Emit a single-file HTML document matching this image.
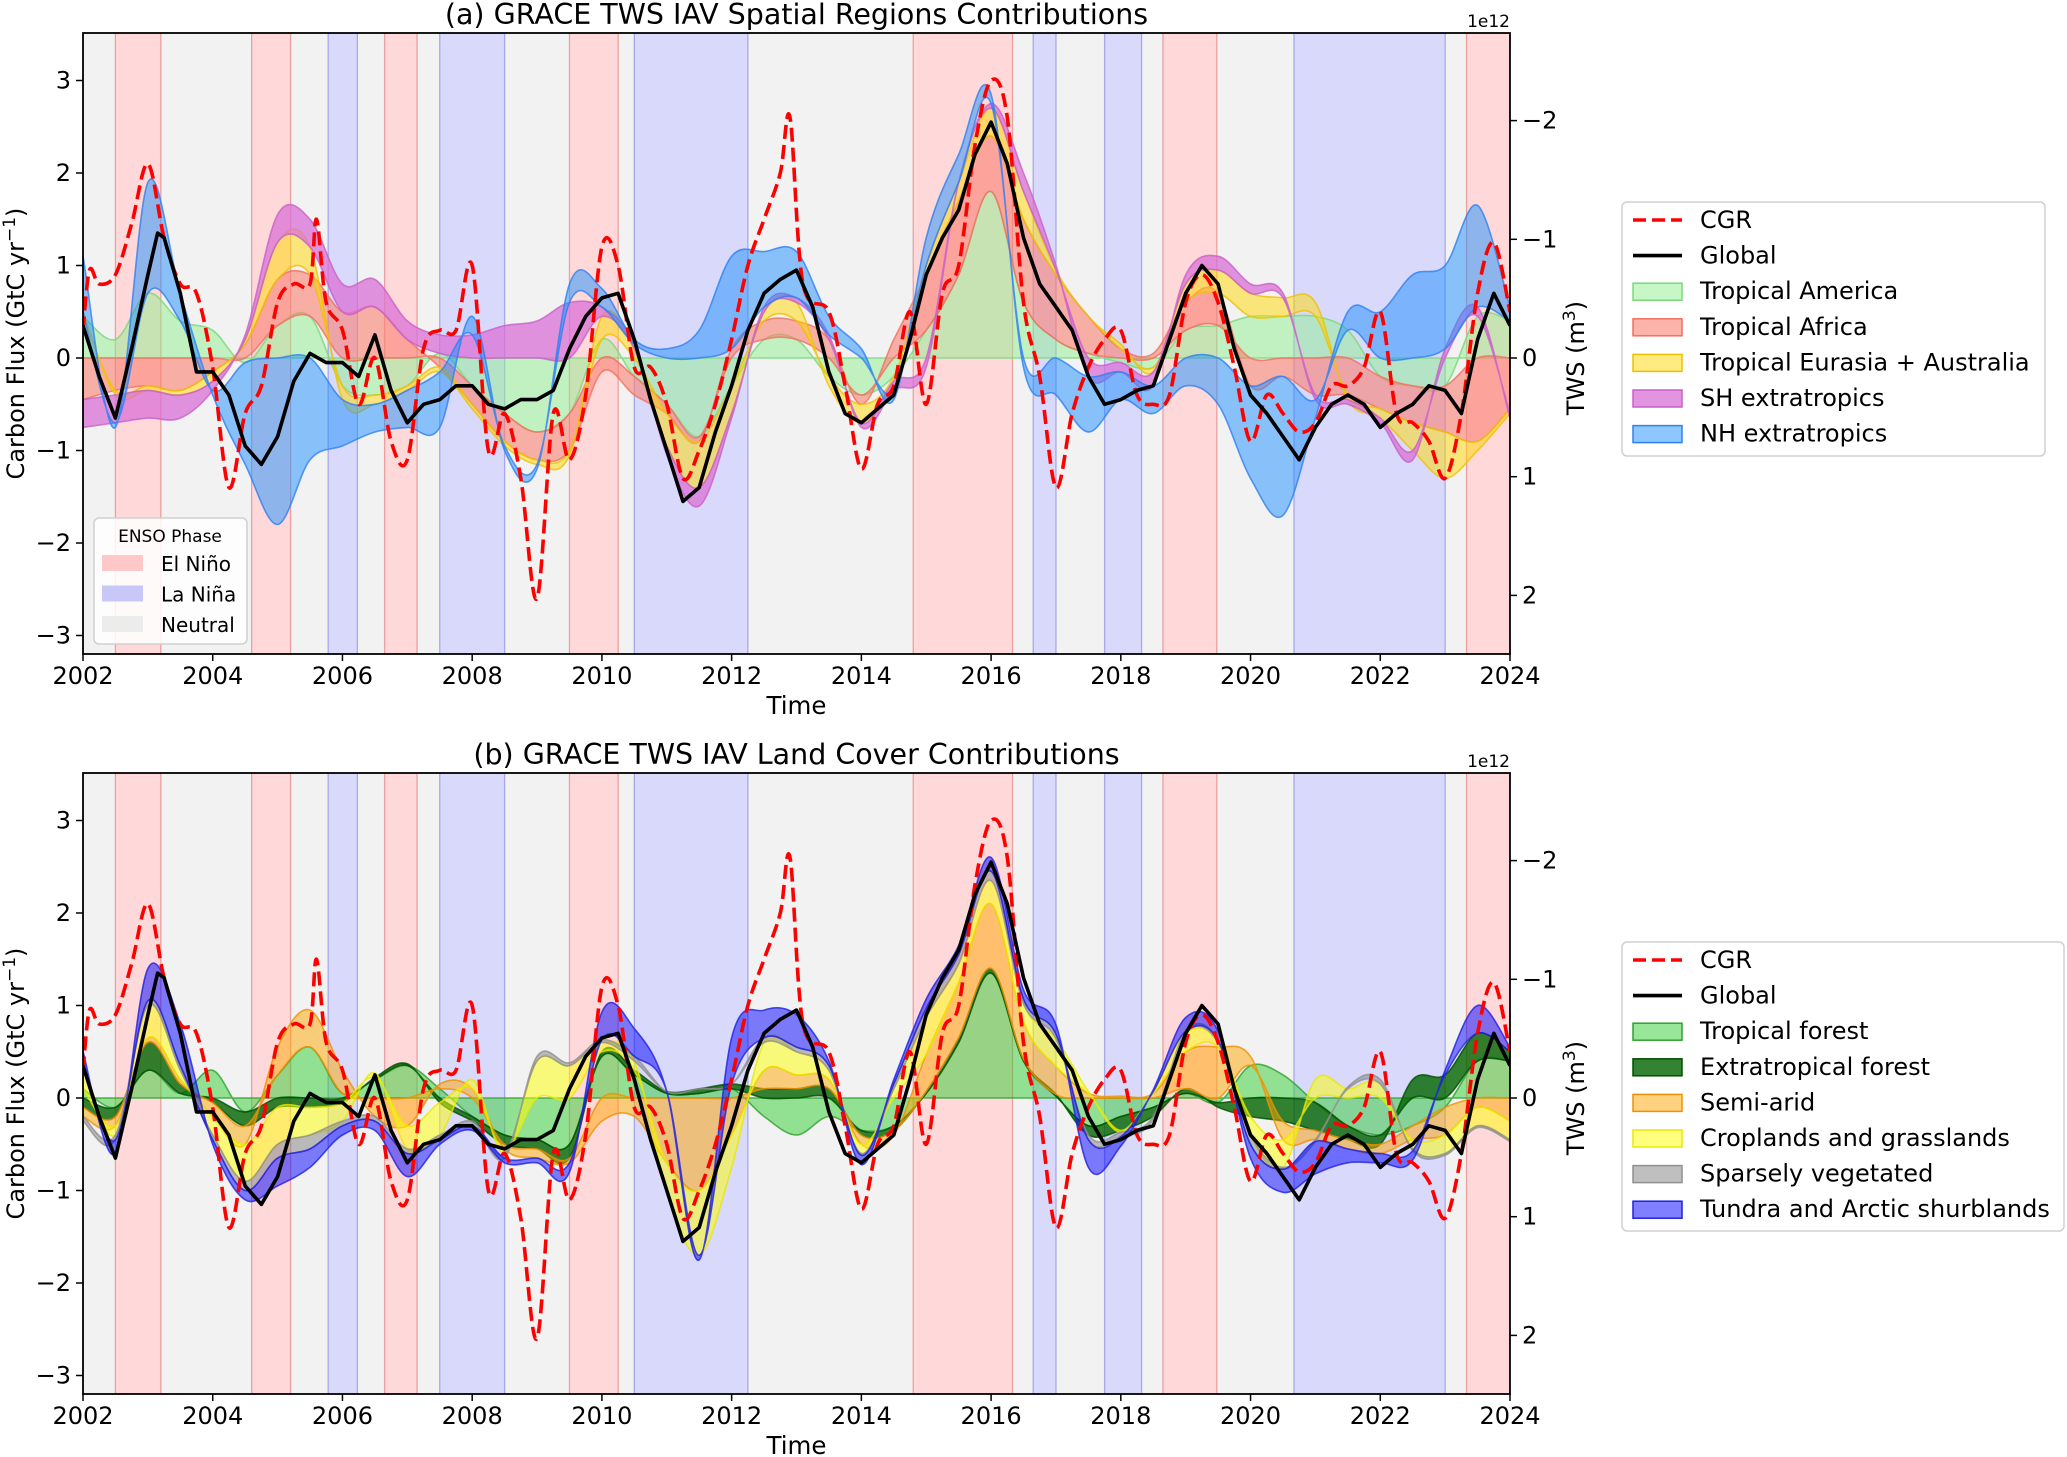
<!DOCTYPE html>
<html><head><meta charset="utf-8">
<style>
body{margin:0;background:#fff;}
svg{display:block;font-family:"DejaVu Sans","Liberation Sans",sans-serif;}
</style></head>
<body>
<svg id="chart" width="2067" height="1457" viewBox="0 0 2067 1457" xmlns="http://www.w3.org/2000/svg"></svg>
<script>
// ---- data ----
const ensoElNino = [[2002.5,2003.2],[2004.6,2005.2],[2006.65,2007.15],[2009.5,2010.25],[2014.8,2016.33],[2018.65,2019.48],[2023.33,2024]];
const ensoLaNina = [[2005.78,2006.23],[2007.5,2008.5],[2010.5,2012.25],[2016.65,2017.0],[2017.75,2018.32],[2020.67,2023.0]];
const globalT = [2002,2002.25,2002.5,2002.75,2003,2003.15,2003.25,2003.5,2003.75,2004,2004.25,2004.5,2004.75,2005,2005.25,2005.5,2005.75,2006,2006.25,2006.5,2006.75,2007,2007.25,2007.5,2007.75,2008,2008.25,2008.5,2008.75,2009,2009.25,2009.5,2009.75,2010,2010.25,2010.5,2010.75,2011,2011.25,2011.5,2011.75,2012,2012.25,2012.5,2012.75,2013,2013.25,2013.5,2013.75,2014,2014.25,2014.5,2014.75,2015,2015.25,2015.5,2015.75,2016,2016.25,2016.5,2016.75,2017,2017.25,2017.5,2017.75,2018,2018.25,2018.5,2018.75,2019,2019.25,2019.5,2019.75,2020,2020.25,2020.5,2020.75,2021,2021.25,2021.5,2021.75,2022,2022.25,2022.5,2022.75,2023,2023.25,2023.5,2023.75,2024];
const globalV = [0.35,-0.2,-0.65,0.1,0.9,1.35,1.3,0.7,-0.15,-0.15,-0.4,-0.95,-1.15,-0.85,-0.25,0.05,-0.05,-0.05,-0.2,0.25,-0.35,-0.7,-0.5,-0.45,-0.3,-0.3,-0.5,-0.55,-0.45,-0.45,-0.35,0.1,0.45,0.65,0.7,0.2,-0.45,-1.0,-1.55,-1.4,-0.8,-0.3,0.3,0.7,0.85,0.95,0.55,-0.15,-0.6,-0.7,-0.55,-0.4,0.2,0.9,1.3,1.6,2.2,2.55,2.1,1.3,0.8,0.55,0.3,-0.2,-0.5,-0.45,-0.35,-0.3,0.2,0.7,1.0,0.8,0.1,-0.4,-0.6,-0.85,-1.1,-0.75,-0.5,-0.4,-0.5,-0.75,-0.6,-0.5,-0.3,-0.35,-0.6,0.2,0.7,0.35];
const cgrT = [2002,2002.1,2002.25,2002.5,2002.75,2003,2003.25,2003.5,2003.75,2004,2004.25,2004.5,2004.75,2005,2005.25,2005.5,2005.6,2005.75,2006,2006.25,2006.5,2006.75,2007,2007.25,2007.5,2007.75,2008,2008.25,2008.5,2008.75,2009,2009.25,2009.5,2009.75,2010,2010.25,2010.5,2010.75,2011,2011.25,2011.5,2011.75,2012,2012.25,2012.5,2012.75,2012.9,2013.1,2013.5,2013.75,2014,2014.25,2014.5,2014.75,2015,2015.25,2015.5,2015.75,2016,2016.25,2016.5,2016.75,2017,2017.25,2017.5,2017.75,2018,2018.25,2018.5,2018.75,2019,2019.25,2019.5,2019.75,2020,2020.25,2020.5,2020.75,2021,2021.25,2021.5,2021.75,2022,2022.25,2022.5,2022.75,2023,2023.25,2023.5,2023.75,2024];
const cgrV = [0.3,0.95,0.8,0.9,1.45,2.1,1.3,0.8,0.7,-0.1,-1.4,-0.6,-0.3,0.6,0.8,0.8,1.5,0.6,0.3,-0.5,0.0,-0.9,-1.1,0.1,0.3,0.3,1.0,-1.0,-0.6,-1.3,-2.6,-0.6,-1.1,-0.4,1.2,1.0,-0.1,-0.1,-0.5,-1.3,-1.0,-0.5,0.2,1.0,1.5,2.0,2.6,0.8,0.5,-0.3,-1.2,-0.5,-0.3,0.5,-0.5,0.7,1.0,2.3,3.0,2.6,0.6,-0.2,-1.4,-0.6,-0.1,0.2,0.3,-0.4,-0.5,-0.4,0.6,0.9,0.6,-0.1,-0.9,-0.4,-0.6,-0.8,-0.7,-0.3,-0.3,-0.1,0.5,-0.6,-0.7,-0.9,-1.3,-0.6,0.7,1.25,0.5];
// component sample times (every half year)
const compT = [2002,2002.5,2003,2003.5,2004,2004.5,2005,2005.5,2006,2006.5,2007,2007.5,2008,2008.5,2009,2009.5,2010,2010.5,2011,2011.5,2012,2012.5,2013,2013.5,2014,2014.5,2015,2015.5,2016,2016.5,2017,2017.5,2018,2018.5,2019,2019.5,2020,2020.5,2021,2021.5,2022,2022.5,2023,2023.5,2024];
// panel (a) regions
const tropAmerica = [0.45,0.2,0.7,0.4,0.3,-0.05,0.35,0.45,-0.3,-0.4,-0.3,0.05,-0.3,-0.6,-0.8,-0.6,0.2,-0.2,-0.5,-0.85,-0.3,0.2,0.2,-0.2,-0.4,-0.2,0.3,0.9,1.8,0.6,0.2,0.05,-0.05,-0.1,0.3,0.35,0.45,0.45,0.45,0.3,-0.2,-0.3,-0.3,0.45,0.4];
const tropAfrica = [-0.45,-0.35,-0.3,-0.35,-0.15,0.15,0.5,0.45,0.5,0.55,0.2,-0.1,-0.2,-0.3,-0.3,-0.4,-0.15,-0.2,-0.1,-0.05,0.1,0.2,0.2,0.2,-0.1,0.2,0.6,0.8,0.6,0.9,0.7,0.4,0.1,0.05,0.3,0.35,-0.3,-0.2,-0.4,-0.4,-0.35,-0.4,-0.5,-0.9,-0.55];
const tropEurasia = [0.05,-0.05,-0.05,-0.05,-0.1,0.05,0.4,0.3,-0.15,-0.1,-0.05,-0.05,-0.05,-0.05,-0.05,-0.05,0.25,0.1,-0.35,-0.5,-0.3,0.1,0.2,-0.1,-0.2,-0.05,0.1,0.2,0.3,0.3,0.05,0.0,0.05,-0.05,0.2,0.25,0.25,0.2,0.15,-0.05,-0.1,-0.3,-0.5,-0.1,-0.05];
const shExtra = [-0.3,-0.3,-0.3,-0.25,-0.1,0.05,0.3,0.3,0.3,0.3,0.2,0.2,0.25,0.35,0.4,0.6,0.1,0.05,-0.1,-0.2,-0.05,0.05,0.05,0.05,-0.05,-0.1,-0.1,0.0,0.05,0.2,0.05,-0.2,-0.1,-0.15,0.1,0.15,0.1,0.05,-0.05,-0.05,-0.05,-0.1,0.1,0.1,-0.05];
const nhExtra = [0.6,-0.05,1.2,0.3,-0.05,-1.1,-1.8,-1.1,-0.5,-0.3,-0.4,-0.6,0.2,-0.05,-0.05,0.2,0.2,0.05,0.1,0.3,1.0,0.6,0.5,0.2,0.1,-0.1,0.3,0.3,0.1,-0.1,-0.4,-0.6,-0.3,-0.3,-0.3,-0.5,-1.0,-1.5,-0.2,0.2,0.5,0.9,0.9,1.1,0.15];
// panel (b) land cover
const tropForest = [0.1,-0.1,0.3,0.05,0.3,-0.15,0.25,0.55,0.05,0.2,0.35,0.1,-0.2,-0.4,-0.45,-0.5,0.45,0.25,0.05,0.05,0.1,-0.2,-0.4,-0.2,-0.35,-0.3,0.05,0.6,1.35,0.4,0.02,-0.3,-0.2,-0.1,0.05,-0.05,0.35,0.25,-0.05,-0.3,-0.4,-0.3,-0.1,0.4,0.4];
const extraForest = [-0.1,-0.1,0.3,0.1,-0.05,-0.15,-0.1,-0.1,-0.05,0.02,0.02,-0.05,-0.05,-0.1,-0.1,-0.15,0.05,0.05,0.02,0.05,0.05,0.1,0.1,0.1,-0.05,-0.05,0.02,0.05,0.05,0.02,0.02,-0.1,-0.15,-0.1,0.05,-0.05,-0.2,-0.25,-0.3,-0.15,-0.1,0.2,0.25,0.3,0.1];
const semiArid = [-0.1,-0.1,0.05,0.05,-0.15,-0.2,0.3,0.4,0.25,-0.2,-0.3,0.05,0.1,-0.05,-0.1,-0.05,-0.25,-0.2,-0.7,-1.0,-0.4,0.2,0.15,0.1,-0.1,-0.05,0.4,0.6,0.7,0.4,0.3,0.05,0.02,0.05,0.4,0.55,0.1,-0.2,-0.1,-0.1,-0.1,-0.15,-0.3,-0.1,-0.25];
const cropGrass = [0.2,-0.1,0.35,0.1,-0.2,-0.4,-0.4,-0.3,-0.2,0.05,-0.25,-0.35,0.1,-0.05,0.4,0.35,0.1,0.1,-0.3,-0.7,-0.35,0.3,0.25,0.1,-0.1,0.1,0.4,0.2,0.25,0.2,0.3,0.02,-0.02,0.02,0.2,0.05,-0.2,-0.3,0.2,0.1,0.15,-0.1,-0.2,-0.2,-0.2];
const sparseVeg = [-0.05,-0.05,0.05,0.05,-0.05,-0.1,-0.15,-0.15,-0.05,-0.05,-0.05,-0.05,-0.05,-0.05,0.05,0.03,0.03,0.05,0,0,0,0.05,0.05,0.05,-0.02,0.05,0.1,0.1,0.1,0.05,0.05,-0.05,-0.05,-0.03,0.02,0.02,-0.1,-0.02,-0.02,0.02,0.05,-0.02,-0.02,-0.02,-0.02];
const tundra = [0.2,-0.15,0.35,0.45,-0.05,-0.1,-0.3,-0.2,-0.1,-0.1,-0.25,-0.05,-0.05,-0.05,-0.05,-0.1,0.3,0.3,0,-0.05,0.5,0.3,0.35,0.05,-0.1,0.05,0.1,0.1,0.15,0.1,0.1,-0.3,-0.1,0.02,0.15,0.1,-0.15,-0.25,-0.35,-0.15,-0.1,-0.1,0.05,0.3,0.05];
const leftTicks = [-3,-2,-1,0,1,2,3];
const rightTicks = [-2,-1,0,1,2];
const xTicks = [2002,2004,2006,2008,2010,2012,2014,2016,2018,2020,2022,2024];

// ---- layout ----
const NS='http://www.w3.org/2000/svg';
const svg=document.getElementById('chart');
const X0=83,X1=1510;
function xs(t){return X0+(t-2002)*(X1-X0)/22;}
function mk(tag,attrs,parent){const e=document.createElementNS(NS,tag);for(const k in attrs)e.setAttribute(k,attrs[k]);(parent||svg).appendChild(e);return e;}
function smooth(pts){ if(pts.length<2)return ''; let d='M'+pts[0][0].toFixed(1)+','+pts[0][1].toFixed(1);
  for(let i=0;i<pts.length-1;i++){const p0=pts[Math.max(0,i-1)],p1=pts[i],p2=pts[i+1],p3=pts[Math.min(pts.length-1,i+2)];
    const c1x=p1[0]+(p2[0]-p0[0])/6,c1y=p1[1]+(p2[1]-p0[1])/6,c2x=p2[0]-(p3[0]-p1[0])/6,c2y=p2[1]-(p3[1]-p1[1])/6;
    d+=' C'+c1x.toFixed(1)+','+c1y.toFixed(1)+' '+c2x.toFixed(1)+','+c2y.toFixed(1)+' '+p2[0].toFixed(1)+','+p2[1].toFixed(1);}
  return d;}
function lin(pts){return 'M'+pts.map(p=>p[0].toFixed(1)+','+p[1].toFixed(1)).join(' L');}

function panel(p){
  const top=p.top,bot=p.top+621; const zero=top+325; const unit=92.5; const tunit=118.7;
  const ys=v=>zero-v*unit; const yr=v=>zero+v*tunit;
  const g=mk('g',{});
  
  
  const clipId='clip'+p.idx;
  const cp=mk('clipPath',{id:clipId},g); mk('rect',{x:X0,y:top,width:X1-X0,height:bot-top},cp);
  const pg=mk('g',{'clip-path':'url(#'+clipId+')'},g);
  const bg=mk('rect',{x:X0,y:top,width:X1-X0,height:bot-top,fill:'#f2f2f2'},pg);
  
  
  ensoElNino.forEach(r=>{const e=mk('rect',{x:xs(r[0]),y:top,width:xs(r[1])-xs(r[0]),height:bot-top,fill:'#ffd9d9',stroke:'#eaa0a0','stroke-width':1.3},pg);
    
    });
  ensoLaNina.forEach(r=>{const e=mk('rect',{x:xs(r[0]),y:top,width:xs(r[1])-xs(r[0]),height:bot-top,fill:'#d9d9fb',stroke:'#a8a8e8','stroke-width':1.3},pg);
    
    });
  const n=compT.length; const pos=new Array(n).fill(0), neg=new Array(n).fill(0);
  p.series.forEach(s=>{
    const lo=[],hi=[];
    for(let i=0;i<n;i++){const v=s.data[i]; if(v>=0){lo.push(pos[i]);hi.push(pos[i]+v);pos[i]+=v;}else{lo.push(neg[i]);hi.push(neg[i]+v);neg[i]+=v;}}
    const up=compT.map((t,i)=>[xs(t),ys(hi[i])]); const dn=compT.map((t,i)=>[xs(t),ys(lo[i])]).reverse();
    const d=smooth(up)+' L'+smooth(dn).slice(1)+' Z';
    const e=mk('path',{d:d,fill:s.fill,'fill-opacity':s.op,stroke:s.edge,'stroke-width':1.6,'stroke-opacity':0.8},pg);
    
    
  });
  const cg=mk('path',{d:smooth(cgrT.map((t,i)=>[xs(t),ys(cgrV[i])])),fill:'none',stroke:'#ff0000','stroke-width':3.6,'stroke-dasharray':'14,6'},pg);
  
  
  const gl=mk('path',{d:lin(globalT.map((t,i)=>[xs(t),ys(globalV[i])])),fill:'none',stroke:'#000','stroke-width':3.6,'stroke-linejoin':'round'},pg);
  
  
  const fr=mk('rect',{x:X0,y:top,width:X1-X0,height:bot-top,fill:'none',stroke:'#000','stroke-width':1.8},g);
  
  
  leftTicks.forEach(v=>{const y=ys(v); mk('line',{x1:X0-7,x2:X0,y1:y,y2:y,stroke:'#000','stroke-width':1.5},g);
    const t=mk('text',{x:X0-12,y:y+8,'text-anchor':'end','font-size':24},g); t.textContent=(v<0?'\u2212'+(-v):v);
    
    });
  rightTicks.forEach(v=>{const y=yr(v); mk('line',{x1:X1,x2:X1+7,y1:y,y2:y,stroke:'#000','stroke-width':1.5},g);
    const t=mk('text',{x:X1+12,y:y+8,'text-anchor':'start','font-size':24},g); t.textContent=(v<0?'\u2212'+(-v):v);
    
    });
  xTicks.forEach(v=>{const x=xs(v); mk('line',{x1:x,x2:x,y1:bot,y2:bot+7,stroke:'#000','stroke-width':1.5},g);
    const t=mk('text',{x:x,y:bot+30,'text-anchor':'middle','font-size':24},g); t.textContent=v;
    
    });
  let t=mk('text',{x:(X0+X1)/2,y:top-9,'text-anchor':'middle','font-size':28.5},g); t.textContent=p.title;
  
  
  t=mk('text',{x:X1,y:top-6,'text-anchor':'end','font-size':17},g); t.textContent='1e12';
  
  
  t=mk('text',{x:(X0+X1)/2,y:bot+60,'text-anchor':'middle','font-size':24.5},g); t.textContent='Time';
  
  
  t=mk('text',{x:0,y:0,'text-anchor':'middle','font-size':24,transform:'translate(24,'+(top+(bot-top)/2)+') rotate(-90)'},g);
  t.innerHTML='Carbon Flux (GtC yr<tspan dy="-9" font-size="17">\u22121</tspan><tspan dy="9">)</tspan>';
  
  
  t=mk('text',{x:0,y:0,'text-anchor':'middle','font-size':24,transform:'translate(1584,'+(zero)+') rotate(-90)'},g);
  t.innerHTML='TWS (m<tspan dy="-9" font-size="17">3</tspan><tspan dy="9">)</tspan>';
  
  
  const L=p.legend; const lg=mk('g',{},g);
  
  
  mk('rect',{x:1622,y:L.y,width:L.w,height:L.h,rx:5,fill:'#fff',stroke:'#d0d0d0','stroke-width':1.5},lg);
  const items=[{key:'cgr',label:'CGR',type:'dash'},{key:'global',label:'Global',type:'line'}].concat(p.series.map(s=>({key:s.key,label:s.label,type:'box',fill:s.fill,op:s.op,edge:s.edge})));
  items.forEach((it,i)=>{const cy=L.y+18+i*35.6; const ig=mk('g',{},lg);
    
    
    if(it.type==='dash')mk('line',{x1:1633,x2:1682,y1:cy,y2:cy,stroke:'#ff0000','stroke-width':3.6,'stroke-dasharray':'13,6'},ig);
    else if(it.type==='line')mk('line',{x1:1633,x2:1682,y1:cy,y2:cy,stroke:'#000','stroke-width':3.6},ig);
    else mk('rect',{x:1633,y:cy-8,width:49,height:17,fill:it.fill,'fill-opacity':it.op,stroke:it.edge,'stroke-width':1.5},ig);
    const tx=mk('text',{x:1700,y:cy+8,'font-size':24},ig); tx.textContent=it.label;});
}

panel({idx:0,top:33,name:'panel-a-regions',title:'(a) GRACE TWS IAV Spatial Regions Contributions',legend:{y:202,w:423,h:254},
  series:[{key:'tropical-america',label:'Tropical America',data:tropAmerica,fill:'#90ee90',op:0.5,edge:'#7ad87a'},
          {key:'tropical-africa',label:'Tropical Africa',data:tropAfrica,fill:'#fa8072',op:0.6,edge:'#f07060'},
          {key:'tropical-eurasia-australia',label:'Tropical Eurasia + Australia',data:tropEurasia,fill:'#ffd700',op:0.5,edge:'#f0c000'},
          {key:'sh-extratropics',label:'SH extratropics',data:shExtra,fill:'#da70d6',op:0.75,edge:'#c860c8'},
          {key:'nh-extratropics',label:'NH extratropics',data:nhExtra,fill:'#1e90ff',op:0.5,edge:'#3080f0'}]});
panel({idx:1,top:773,name:'panel-b-landcover',title:'(b) GRACE TWS IAV Land Cover Contributions',legend:{y:942,w:442,h:289},
  series:[{key:'tropical-forest',label:'Tropical forest',data:tropForest,fill:'#32cd32',op:0.5,edge:'#30a030'},
          {key:'extratropical-forest',label:'Extratropical forest',data:extraForest,fill:'#006400',op:0.8,edge:'#005000'},
          {key:'semi-arid',label:'Semi-arid',data:semiArid,fill:'#ffa500',op:0.5,edge:'#f09000'},
          {key:'croplands-grasslands',label:'Croplands and grasslands',data:cropGrass,fill:'#ffff00',op:0.5,edge:'#e8e800'},
          {key:'sparsely-vegetated',label:'Sparsely vegetated',data:sparseVeg,fill:'#808080',op:0.5,edge:'#909090'},
          {key:'tundra-arctic',label:'Tundra and Arctic shurblands',data:tundra,fill:'#0000ff',op:0.5,edge:'#2020e0'}]});

const eg=mk('g',{});


mk('rect',{x:94,y:518,width:153,height:126,rx:5,fill:'#fff','fill-opacity':0.85,stroke:'#d0d0d0','stroke-width':1.5},eg);
let et=mk('text',{x:170,y:542,'text-anchor':'middle','font-size':17},eg); et.textContent='ENSO Phase';
[['El Niño','#ffc8c8'],['La Niña','#c8c8f8'],['Neutral','#ececec']].forEach((e,i)=>{const cy=563+i*30.5;
  mk('rect',{x:102,y:cy-8,width:41,height:16,fill:e[1]},eg);
  const t=mk('text',{x:161,y:cy+8,'font-size':20},eg); t.textContent=e[0];});
</script>
</body></html>
